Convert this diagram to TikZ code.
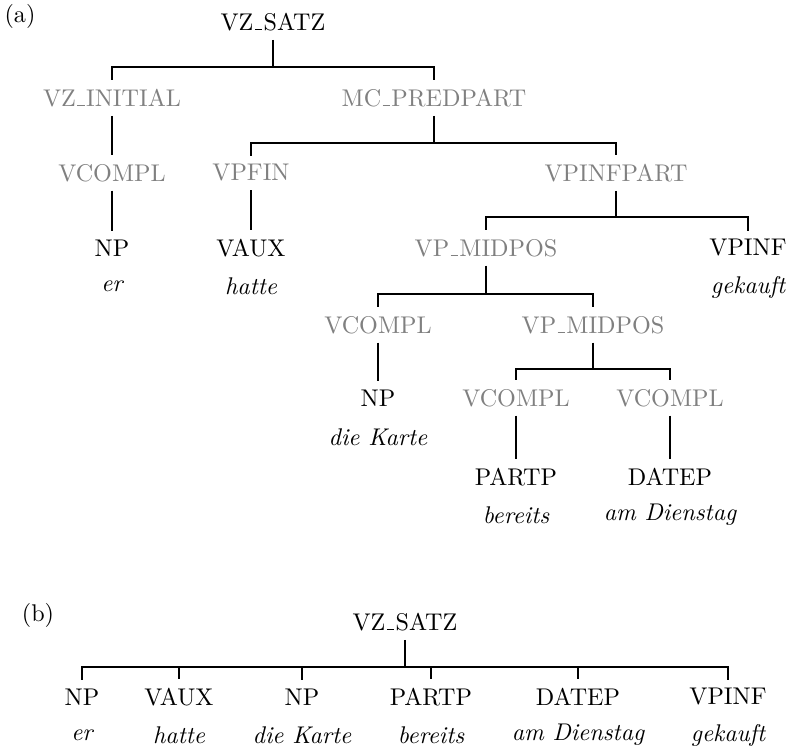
\documentclass[tikz,border=0pt]{standalone}
\usepackage{tikz}
\usepackage{xcolor}

% low rule as in the old OT1 underscore
\newcommand{\usc}{\leavevmode\kern.06em\vbox{\hrule height 0.5pt width.3em}\kern.06em}

\begin{document}
\begin{tikzpicture}[x=0.414pt,y=-0.414pt,line width=0.7pt,
    cat/.style={text=black!50},
    tag/.style={text=black},
    word/.style={font=\itshape}]
        \useasboundingbox (0,0) rectangle (789,749);

        % (a) full tree
        \node (lbla) at (20,16) {(a)};
        \node[tag] (root) at (273,22) {VZ\usc SATZ};
        \coordinate (bar0) at (273,67);
        \node[cat] (init) at (112,98) {VZ\usc INITIAL};
        \node[cat] (mc) at (434,98) {MC\usc PREDPART};
        \draw (root.south) -- (bar0) -| (init.north);
        \draw (bar0) -| (mc.north);

        % left branch
        \node[cat] (vcA) at (112,173) {VCOMPL};
        \node[tag] (npA) at (112,248) {NP};
        \node[word] (er) at (112,286) {er};
        \draw (init) -- (vcA);
        \draw (vcA) -- (npA);

        % predicate part
        \coordinate (bar1) at (434,143);
        \node[cat] (vpfin) at (251,173) {VPFIN};
        \node[cat] (vpinfpart) at (616,173) {VPINFPART};
        \draw (mc.south) -- (bar1) -| (vpfin.north);
        \draw (bar1) -| (vpinfpart.north);
        \node[tag] (vaux) at (251,248) {VAUX};
        \node[word] (hatte) at (251,286) {hatte};
        \draw (vpfin) -- (vaux);

        \coordinate (bar2) at (616,217);
        \node[cat] (midA) at (486,248) {VP\usc MIDPOS};
        \node[tag] (vpinf) at (748,248) {VPINF};
        \node[word] (gekauft) at (748,287) {gekauft};
        \draw (vpinfpart.south) -- (bar2) -| (midA.north);
        \draw (bar2) -| (vpinf.north);

        \coordinate (bar3) at (486,294);
        \node[cat] (vcB) at (378,325) {VCOMPL};
        \node[cat] (midB) at (593,325) {VP\usc MIDPOS};
        \draw (midA.south) -- (bar3) -| (vcB.north);
        \draw (bar3) -| (midB.north);
        \node[tag] (npB) at (378,398) {NP};
        \node[word] (karte) at (378,437) {die Karte};
        \draw (vcB) -- (npB);

        \coordinate (bar4) at (593,369);
        \node[cat] (vcC) at (516,398) {VCOMPL};
        \node[cat] (vcD) at (670,398) {VCOMPL};
        \draw (midB.south) -- (bar4) -| (vcC.north);
        \draw (bar4) -| (vcD.north);
        \node[tag] (partp) at (516,477) {PARTP};
        \node[word] (bereits) at (516,515) {bereits};
        \node[tag] (datep) at (670,477) {DATEP};
        \node[word] (dienstag) at (670,515) {am Dienstag};
        \draw (vcC) -- (partp);
        \draw (vcD) -- (datep);

        % (b) flat tree
        \node (lblb) at (38,615) {(b)};
        \node[tag] (rootb) at (405,622) {VZ\usc SATZ};
        \coordinate (barb) at (405,667);
        \draw (rootb.south) -- (barb);
        \foreach \x/\n/\c/\w in {82/b1/NP/er, 179/b2/VAUX/hatte, 302/b3/NP/die Karte,
                431/b4/PARTP/bereits, 578/b5/DATEP/am Dienstag, 728/b6/VPINF/gekauft} {
            \node[tag] (\n) at (\x,697) {\c};
            \node[word] (w\n) at (\x,735) {\w};
            \draw (barb) -| (\n.north);
        }
    \end{tikzpicture}
\end{document}
